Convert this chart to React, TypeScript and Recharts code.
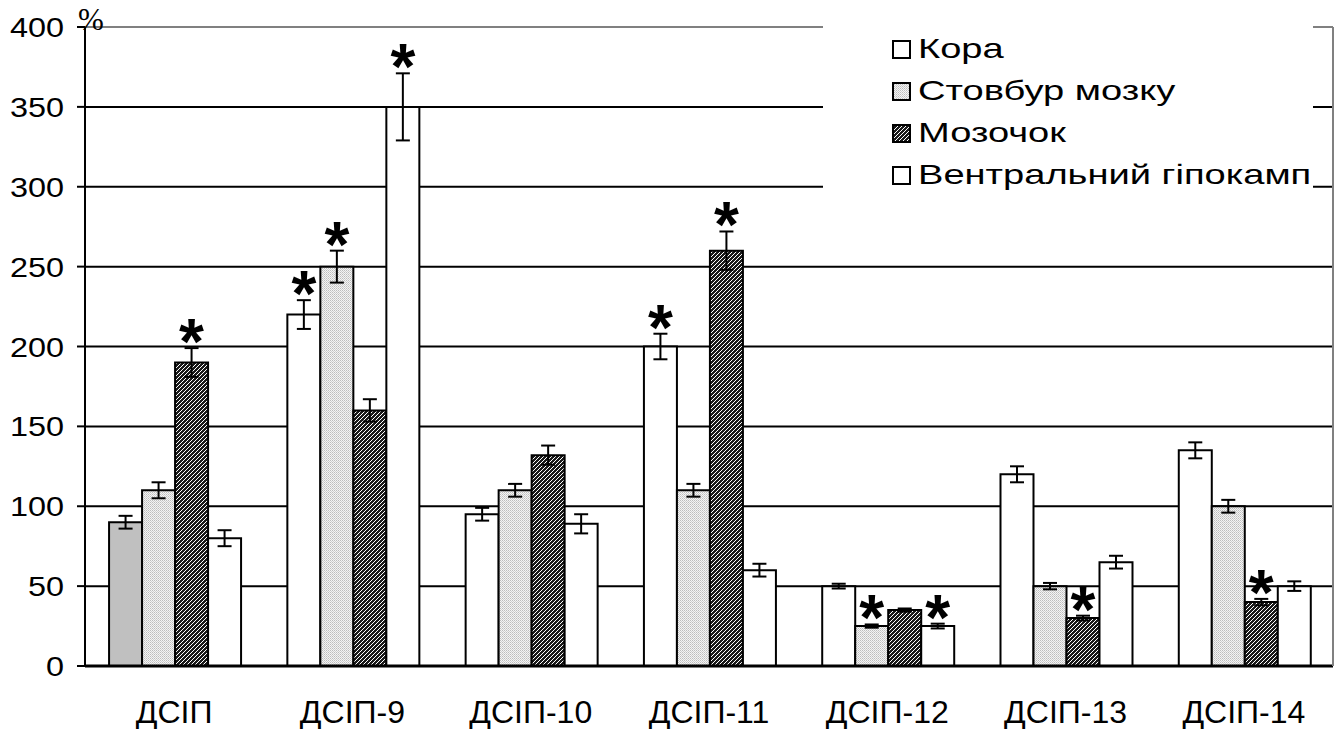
import React from 'react';
import { BarChart, Bar, XAxis, YAxis, CartesianGrid, ErrorBar, Cell, Legend, ReferenceLine, LabelList } from 'recharts';

const categories = ['ДСІП', 'ДСІП-9', 'ДСІП-10', 'ДСІП-11', 'ДСІП-12', 'ДСІП-13', 'ДСІП-14'];
const seriesNames = ['Кора', 'Стовбур мозку', 'Мозочок', 'Вентральний гіпокамп'];
const kora = [90, 220, 95, 200, 50, 120, 135];
const koraErr = [4, 9, 4, 8, 1.5, 5, 5];
const koraStar = [false, true, false, true, false, false, false];
const stovbur = [110, 250, 110, 110, 25, 50, 100];
const stovburErr = [5, 10, 4, 4, 1, 2, 4];
const stovburStar = [false, true, false, false, true, false, false];
const mozochok = [190, 160, 132, 260, 35, 30, 40];
const mozochokErr = [9, 7, 6, 12, 1, 1.5, 2];
const mozochokStar = [true, false, false, true, false, true, true];
const ventral = [80, 350, 89, 60, 25, 65, 50];
const ventralErr = [5, 21, 6, 4, 1.5, 4, 3];
const ventralStar = [false, true, false, false, true, false, false];
const yTicks = [0, 50, 100, 150, 200, 250, 300, 350, 400];
const unitLabel = '%';

const data = categories.map((c, i) => ({
  name: c,
  kora: kora[i], koraErr: koraErr[i],
  stovbur: stovbur[i], stovburErr: stovburErr[i],
  mozochok: mozochok[i], mozochokErr: mozochokErr[i],
  ventral: ventral[i], ventralErr: ventralErr[i],
}));

const FONT = '"Liberation Sans", Arial, sans-serif';
const fills = ['#ffffff', 'url(#dotPat)', 'url(#hatchPat)', '#ffffff'];
const keys = ['kora', 'stovbur', 'mozochok', 'ventral'];
const errs = [koraErr, stovburErr, mozochokErr, ventralErr];
const stars = [koraStar, stovburStar, mozochokStar, ventralStar];
const vals = [kora, stovbur, mozochok, ventral];

const Patterns = () => (
  <svg width={0} height={0} style={{ position: 'absolute' }}>
    <defs>
      <pattern id="dotPat" width={2} height={2} patternUnits="userSpaceOnUse">
        <rect width={2} height={2} fill="#f4f4f4" />
        <rect width={1} height={1} fill="#bdbdbd" />
        <rect x={1} y={1} width={1} height={1} fill="#d0d0d0" />
      </pattern>
      <pattern id="hatchPat" width={4} height={4} patternUnits="userSpaceOnUse">
        <rect width={4} height={4} fill="#1a1a1a" />
        <path d="M-1,1 L1,-1 M0,4 L4,0 M3,5 L5,3" stroke="#ffffff" strokeWidth={1} />
      </pattern>
    </defs>
  </svg>
);

const makeStar = (errArr: number[], starArr: boolean[], valArr: number[]) => (props: any) => {
  const { x, y, width, height, index } = props;
  if (!starArr[index]) return null;
  const pxPerUnit = height / valArr[index];
  const errTop = y - errArr[index] * pxPerUnit;
  return (
    <text x={x + width / 2} y={errTop + 16} textAnchor="middle" fontFamily={FONT} fontWeight="bold" fontSize={64} fill="#000">*</text>
  );
};

const XTick = (props: any) => {
  const { x, payload } = props;
  return (
    <text x={x} y={723} textAnchor="middle" fontFamily={FONT} fontSize={32} fill="#000">{payload.value}</text>
  );
};

const YTick = (props: any) => {
  const { x, y, payload } = props;
  return (
    <text transform={`translate(${x - 11},${y + 10}) scale(1.2,1)`} textAnchor="end" fontFamily={FONT} fontSize={27} fill="#000">{payload.value}</text>
  );
};

const LegendContent = () => (
  <div style={{ background: '#fff', width: '100%', height: '100%', boxSizing: 'border-box', paddingTop: 8, paddingLeft: 69, fontFamily: FONT, fontSize: 28, color: '#000' }}>
    {seriesNames.map((n, i) => (
      <div key={n} style={{ height: 42, display: 'flex', alignItems: 'center' }}>
        <svg width={19} height={19} style={{ marginRight: 7, flex: 'none' }}>
          <rect x={1} y={1} width={17} height={17} fill={fills[i]} stroke="#000" strokeWidth={2} />
        </svg>
        <span style={{ whiteSpace: 'nowrap', display: 'inline-block', transform: 'scaleX(1.36)', transformOrigin: 'left center' }}>{n}</span>
      </div>
    ))}
  </div>
);

const UnitLabel = () => (
  <text x={78} y={30} fontFamily='"Liberation Serif", "Times New Roman", serif' fontSize={31} fill="#000">{unitLabel}</text>
);

export default function App() {
  return (
    <div style={{ position: 'absolute', left: 0, top: 0, width: 1339, height: 729, background: '#fff' }}>
      <Patterns />
      <BarChart width={1339} height={729} data={data} margin={{ top: 27, right: 0, left: 0, bottom: 0 }} barCategoryGap="13.5%" barGap={0}>
        <CartesianGrid horizontal vertical={false} stroke="#000" strokeWidth={2} />
        <ReferenceLine y={400} stroke="#808080" strokeWidth={2} />
        <XAxis dataKey="name" height={63} axisLine={{ stroke: '#000', strokeWidth: 3 }} tickLine={false} tick={<XTick />} interval={0} />
        <YAxis domain={[0, 400]} ticks={yTicks} width={85} axisLine={{ stroke: '#000', strokeWidth: 2 }} tickLine={{ stroke: '#000', strokeWidth: 2 }} tickSize={8} tick={<YTick />} label={<UnitLabel />} />
        <YAxis yAxisId="r" orientation="right" domain={[0, 400]} width={6} tick={false} tickLine={false} axisLine={{ stroke: '#808080', strokeWidth: 2 }} />
        <Legend layout="horizontal" verticalAlign="middle" align="center" content={<LegendContent />} wrapperStyle={{ left: 823, top: 20, width: 490, height: 200 }} />
        {keys.map((k, si) => (
          <Bar key={k} dataKey={k} name={seriesNames[si]} fill={fills[si]} stroke="#000" strokeWidth={2} isAnimationActive={false}>
            {si === 0 && data.map((d, i) => <Cell key={i} fill={i === 0 ? '#c0c0c0' : '#ffffff'} />)}
            <ErrorBar dataKey={k + 'Err'} width={7} stroke="#000" strokeWidth={2} direction="y" />
            <LabelList dataKey={k} content={makeStar(errs[si], stars[si], vals[si])} />
          </Bar>
        ))}
      </BarChart>
    </div>
  );
}
